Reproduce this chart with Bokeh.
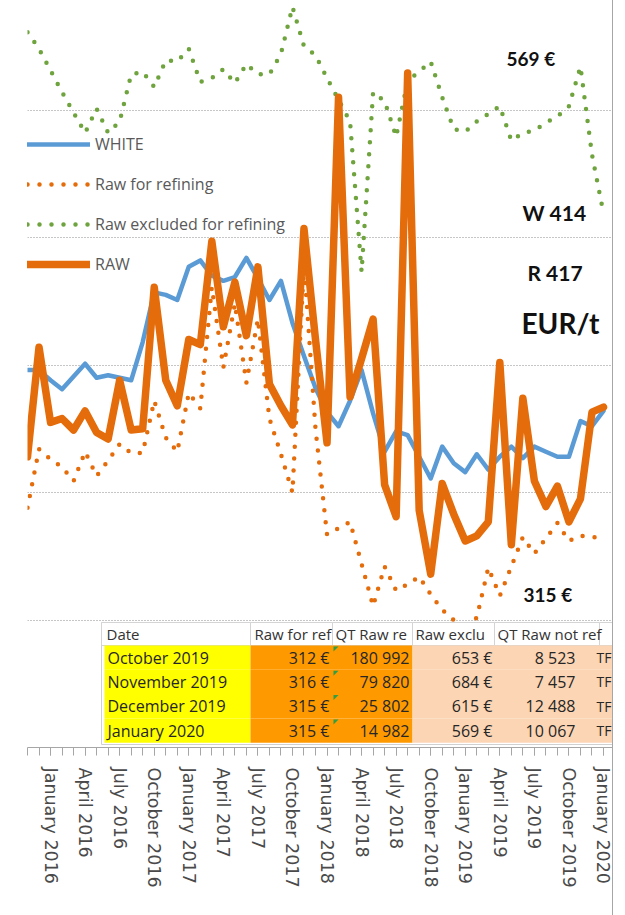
from bokeh.plotting import figure
from bokeh.models import Range1d, FixedTicker, Legend, LegendItem
from bokeh.core.properties import value
from bokeh.embed import file_html
from bokeh.resources import INLINE

# ---------------- data (monthly, index 0 = November 2015 ... 50 = January 2020)
month_index = list(range(51))

white = [446, 446, 438, 431, 441, 451, 440, 442, 440, 438,
         468, 507, 505, 501, 527, 532, 520, 516, 519, 534,
         518, 501, 516, 483, 457, 432, 413, 402, 422, 446,
         412, 382, 398, 395, 378, 361, 386, 373, 366, 380,
         368, 378, 386, 377, 386, 382, 378, 378, 406, 402, 414]

raw_for_refining = [338, 384, 376, 370, 359, 382, 363, 375, 388, 381,
                    381, 422, 393, 382, 428, 416, 511, 448, 498, 436,
                    486, 408, 380, 350, 530, 400, 317, 322, 327, 294,
                    261, 292, 273, 278, 284, 270, 258, 250, 240, 252,
                    291, 269, 292, 315, 302, 314, 326, 312, 316, 315, 315]

raw_excluded = [711, 698, 681, 664, 648, 632, 651, 632, 641, 678,
                680, 668, 689, 688, 698, 672, 675, 682, 671, 686,
                678, 678, 694, 731, 700, 693, 675, 658, 641, 523,
                664, 657, 629, 673, 680, 688, 660, 635, 633, 641,
                647, 653, 626, 632, 634, 640, 645, 653, 684, 615, 569]

raw = [378, 464, 405, 408, 399, 414, 397, 392, 438, 399,
       400, 511, 438, 418, 470, 466, 547, 480, 515, 473,
       527, 435, 418, 403, 557, 470, 389, 660, 425, 455,
       486, 356, 331, 679, 336, 286, 357, 333, 312, 316,
       327, 452, 309, 424, 359, 339, 355, 327, 345, 413, 417]

quarter_ticks = list(range(2, 51, 3))
quarter_labels = ["January 2016", "April 2016", "July 2016", "October 2016",
                  "January 2017", "April 2017", "July 2017", "October 2017",
                  "January 2018", "April 2018", "July 2018", "October 2018",
                  "January 2019", "April 2019", "July 2019", "October 2019",
                  "January 2020"]

grid_values = [250, 350, 450, 550, 650]

series_names = ["WHITE", "Raw for refining", "Raw excluded for refining", "RAW"]

annot_texts = ["569 €", "W 414", "R 417", "EUR/t", "315 €"]

table_header = ["Date", "Raw for ref", "QT Raw re", "Raw exclu", "QT Raw not ref"]
table_dates = ["October 2019", "November 2019", "December 2019", "January 2020"]
table_raw_ref = ["312 €", "316 €", "315 €", "315 €"]
table_qt_ref = ["180 992", "79 820", "25 802", "14 982"]
table_raw_excl = ["653 €", "684 €", "615 €", "569 €"]
table_qt_excl = ["8 523", "7 457", "12 488", "10 067"]
table_flag = ["TF", "TF", "TF", "TF"]

# ---------------- layout helpers (page pixel -> data space)
X0, PX_PER_MONTH = 27.0, 11.52
Y_REF, V_REF, PX_PER_UNIT = 492.0, 350.0, 1.275


def dx(px):
    return (px - X0) / PX_PER_MONTH


def dy(py):
    return V_REF + (Y_REF - py) / PX_PER_UNIT


BLUE = "#5b9bd5"
ORANGE = "#e46c0a"
GREEN = "#6fa33e"

FRAME_RIGHT = 612
FRAME_BOTTOM = 747

p = figure(width=613, height=915,
           x_range=Range1d(dx(27), dx(FRAME_RIGHT)),
           y_range=Range1d(dy(FRAME_BOTTOM), dy(0)),
           output_backend="svg", toolbar_location=None, y_axis_location=None,
           min_border_left=27, min_border_right=613 - FRAME_RIGHT, min_border_top=0,
           min_border_bottom=915 - FRAME_BOTTOM)
p.outline_line_color = None
p.background_fill_color = "white"
p.styles = {"border-right": "1px solid #a6a6a6"}

p.xgrid.visible = False
p.ygrid.ticker = FixedTicker(ticks=grid_values)
p.ygrid.grid_line_color = "#8c8c8c"
p.ygrid.grid_line_dash = "1 2"
p.ygrid.grid_line_width = 1

ax = p.xaxis[0]
ax.ticker = FixedTicker(ticks=quarter_ticks, minor_ticks=month_index)
ax.major_label_overrides = {t: lab for t, lab in zip(quarter_ticks, quarter_labels)}
ax.major_label_orientation = "vertical"
ax.major_label_text_font = "DejaVu Sans"
ax.major_label_text_font_size = "17.5px"
ax.major_label_text_color = "#4a4a4a"
ax.major_label_standoff = 12
ax.axis_line_color = "#a6a6a6"
ax.major_tick_line_color = "#a6a6a6"
ax.minor_tick_line_color = "#a6a6a6"
ax.major_tick_in = 0
ax.minor_tick_in = 0
ax.major_tick_out = 8
ax.minor_tick_out = 8

# ---------------- series
r_white = p.line(month_index, white, line_color=BLUE, line_width=4.5,
                 line_join="round", line_cap="round")
r_ref = p.line(month_index, raw_for_refining, line_color=ORANGE, line_width=4.5,
               line_dash="0 12", line_cap="round", line_join="round")
r_exc = p.line(month_index, raw_excluded, line_color=GREEN, line_width=4.5,
               line_dash="0 12", line_cap="round", line_join="round")
r_raw = p.line(month_index, raw, line_color=ORANGE, line_width=7.5,
               line_join="round", line_cap="round")

legend = Legend(items=[LegendItem(label=n, renderers=[r])
                       for n, r in zip(series_names, [r_white, r_ref, r_exc, r_raw])],
                location=(0, 472), orientation="vertical",
                glyph_width=63, glyph_height=20, label_height=20, spacing=18,
                padding=0, margin=0, label_standoff=5,
                background_fill_alpha=0, border_line_alpha=0,
                label_text_font="Open Sans", label_text_font_size="16px",
                label_text_color="#595959")
p.add_layout(legend)

# ---------------- annotations (bold, right side)
annot_x = [dx(506), dx(522), dx(527), dx(521), dx(523)]
annot_y = [dy(58), dy(212), dy(272), dy(322), dy(594)]
annot_sizes = ["19px", "21px", "21px", "28px", "19px"]
for t, x, y, s in zip(annot_texts, annot_x, annot_y, annot_sizes):
    p.text(x=[x], y=[y], text=[t], text_font=value("Lato"), text_font_style="bold",
           text_font_size=s, text_baseline="middle", text_align="left",
           text_color="#111111")

# ---------------- spreadsheet table pasted over the bottom of the plot
p.quad(left=[dx(101)], right=[dx(640)], top=[dy(622)], bottom=[dy(744)],
       fill_color="white", line_color="#d0d0d0", line_width=1)

hdr_edges = [101, 250, 332, 412, 494, 599, 640]
p.quad(left=[dx(a) for a in hdr_edges[:-1]], right=[dx(b) for b in hdr_edges[1:]],
       top=[dy(622)] * 6, bottom=[dy(645)] * 6,
       fill_color="white", line_color="#d4d4d4", line_width=1)

row_h = 24.3
row_tops = [645 + k * row_h for k in range(4)]
fills = [(104, 250, "#ffff00"), (250, 412, "#fe9a00"), (412, 640, "#fcd5b4")]
for a, b, c in fills:
    p.quad(left=[dx(a)] * 4, right=[dx(b)] * 4,
           top=[dy(t) for t in row_tops], bottom=[dy(t + row_h) for t in row_tops],
           fill_color=c, line_color=None)

hdr_x = [106, 254, 335, 415, 497]
p.text(x=[dx(v) for v in hdr_x], y=[dy(633.5)] * 5, text=table_header,
       text_font=value("Open Sans"), text_font_size="15px", text_baseline="middle",
       text_align="left", text_color="#333333")

row_centers = [dy(t + row_h / 2) for t in row_tops]
cols = [(table_dates, 107, "left", "16px"), (table_raw_ref, 329, "right", "16px"),
        (table_qt_ref, 409, "right", "16px"), (table_raw_excl, 492, "right", "16px"),
        (table_qt_excl, 575, "right", "16px"), (table_flag, 596, "left", "14px")]
for texts, xpx, align, fs in cols:
    p.text(x=[dx(xpx)] * 4, y=row_centers, text=texts,
           text_font=value("Open Sans"), text_font_size=fs,
           text_baseline="middle", text_align=align, text_color="#262626")

# little green "number stored as text" markers
p.patches(xs=[[dx(333), dx(338), dx(333)] for _ in row_tops],
          ys=[[dy(t + 1), dy(t + 1), dy(t + 6)] for t in row_tops],
          fill_color="#2f9e44", line_color=None)

open("out.html", "w").write(file_html(p, INLINE))
